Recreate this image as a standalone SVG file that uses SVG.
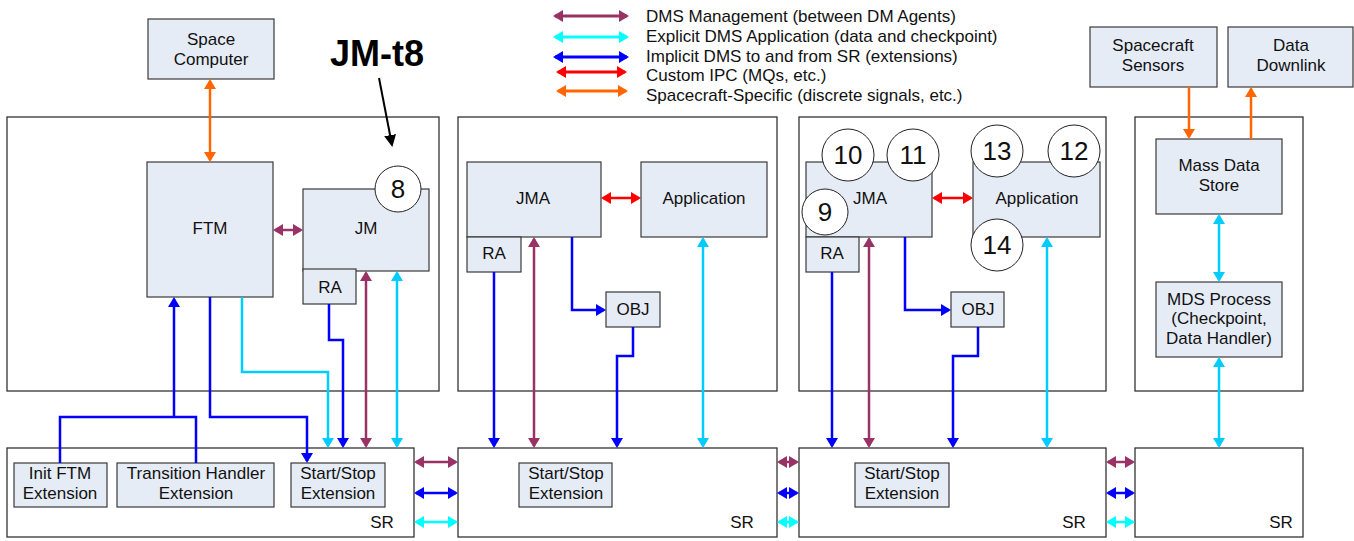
<svg xmlns="http://www.w3.org/2000/svg" width="1354" height="541" viewBox="0 0 1354 541">
  <style>
    .box { fill: #E6ECF6; stroke: #3A3A3A; stroke-width: 1.2; }
    .cont { fill: #FFFFFF; stroke: #333333; stroke-width: 1.3; }
    .num { fill: #FFFFFF; stroke: #222222; stroke-width: 1; }
    text { font-family: "Liberation Sans", Arial, sans-serif; font-size: 17px; fill: #111111; }
    .c { text-anchor: middle; }
    .n { font-size: 26px; text-anchor: middle; }
    .big { font-size: 36px; font-weight: bold; fill: #000000; }
    .ln { fill: none; stroke-width: 2.5; stroke-linejoin: miter; }
    .mg { stroke: #993366; }
    .sk { stroke: #00CCFF; }
    .aq { stroke: #00FFFF; }
    .bl { stroke: #0000FF; }
    .rd { stroke: #FF0000; }
    .or { stroke: #FF6600; }
    .bk { stroke: #000000; stroke-width: 2; }
  </style>
  <defs>
    <marker id="h-mg" viewBox="0 0 10 12" refX="8" refY="6" markerWidth="10" markerHeight="12" markerUnits="userSpaceOnUse" orient="auto-start-reverse"><path d="M0,0 L10,6 L0,12 z" fill="#993366"/></marker>
    <marker id="h-sk" viewBox="0 0 10 12" refX="8" refY="6" markerWidth="10" markerHeight="12" markerUnits="userSpaceOnUse" orient="auto-start-reverse"><path d="M0,0 L10,6 L0,12 z" fill="#00CCFF"/></marker>
    <marker id="h-aq" viewBox="0 0 10 12" refX="8" refY="6" markerWidth="10" markerHeight="12" markerUnits="userSpaceOnUse" orient="auto-start-reverse"><path d="M0,0 L10,6 L0,12 z" fill="#00FFFF"/></marker>
    <marker id="h-bl" viewBox="0 0 10 12" refX="8" refY="6" markerWidth="10" markerHeight="12" markerUnits="userSpaceOnUse" orient="auto-start-reverse"><path d="M0,0 L10,6 L0,12 z" fill="#0000FF"/></marker>
    <marker id="h-rd" viewBox="0 0 10 12" refX="8" refY="6" markerWidth="10" markerHeight="12" markerUnits="userSpaceOnUse" orient="auto-start-reverse"><path d="M0,0 L10,6 L0,12 z" fill="#FF0000"/></marker>
    <marker id="h-or" viewBox="0 0 10 12" refX="8" refY="6" markerWidth="10" markerHeight="12" markerUnits="userSpaceOnUse" orient="auto-start-reverse"><path d="M0,0 L10,6 L0,12 z" fill="#FF6600"/></marker>
    <marker id="h-bk" viewBox="0 0 12 12" refX="10" refY="6" markerWidth="12" markerHeight="12" markerUnits="userSpaceOnUse" orient="auto"><path d="M0,0 L12,6 L0,12 z" fill="#000000"/></marker>
  </defs>

  <!-- legend -->
  <g id="legend">
    <path class="ln mg" d="M555,16 H627" style="stroke-width:3" marker-start="url(#h-mg)" marker-end="url(#h-mg)"/>
    <path class="ln aq" d="M555,37 H627" style="stroke-width:3" marker-start="url(#h-aq)" marker-end="url(#h-aq)"/>
    <path class="ln bl" d="M555,57 H627" style="stroke-width:3" marker-start="url(#h-bl)" marker-end="url(#h-bl)"/>
    <path class="ln rd" d="M558,72 H625" style="stroke-width:3" marker-start="url(#h-rd)" marker-end="url(#h-rd)"/>
    <path class="ln or" d="M558,91 H626" style="stroke-width:3" marker-start="url(#h-or)" marker-end="url(#h-or)"/>
    <text x="646" y="22">DMS Management (between DM Agents)</text>
    <text x="646" y="42">Explicit DMS Application (data and checkpoint)</text>
    <text x="646" y="62">Implicit DMS to and from SR (extensions)</text>
    <text x="646" y="81">Custom IPC (MQs, etc.)</text>
    <text x="646" y="101">Spacecraft-Specific (discrete signals, etc.)</text>
  </g>

  <!-- containers -->
  <g id="host-left"><rect class="cont" x="7" y="117" width="432" height="274"/></g>
  <g id="host-mid"><rect class="cont" x="458" y="117" width="319" height="274"/></g>
  <g id="host-third"><rect class="cont" x="799" y="117" width="307" height="274"/></g>
  <g id="host-right"><rect class="cont" x="1135" y="117" width="168" height="274"/></g>

  <!-- title callout, drawn over the left host frame -->
  <g id="jm-t8-label">
    <text class="big" x="330" y="66">JM-t8</text>
    <path class="ln bk" d="M379,78 L392,145" marker-end="url(#h-bk)"/>
  </g>

  <!-- SR boxes -->
  <g id="sr-1"><rect class="cont" x="7" y="448" width="407" height="89"/><text class="c" x="382" y="528">SR</text></g>
  <g id="sr-2"><rect class="cont" x="458" y="448" width="319" height="89"/><text class="c" x="742" y="528">SR</text></g>
  <g id="sr-3"><rect class="cont" x="799" y="448" width="307" height="89"/><text class="c" x="1074" y="528">SR</text></g>
  <g id="sr-4"><rect class="cont" x="1135" y="448" width="168" height="89"/><text class="c" x="1281" y="528">SR</text></g>

  <!-- external boxes -->
  <g id="space-computer"><rect class="box" x="148" y="19" width="126" height="60"/><text class="c" x="211" y="45">Space</text><text class="c" x="211" y="65">Computer</text></g>
  <g id="sc-sensors"><rect class="box" x="1090" y="27" width="127" height="60"/><text class="c" x="1153" y="51">Spacecraft</text><text class="c" x="1153" y="71">Sensors</text></g>
  <g id="data-downlink"><rect class="box" x="1228" y="27" width="125" height="60"/><text class="c" x="1291" y="51">Data</text><text class="c" x="1291" y="71">Downlink</text></g>

  <!-- left host -->
  <g id="ftm"><rect class="box" x="147" y="162" width="126" height="135"/><text class="c" x="210" y="234">FTM</text></g>
  <g id="jm"><rect class="box" x="303" y="189" width="126" height="82"/><text class="c" x="366" y="234">JM</text></g>
  <g id="ra-1"><rect class="box" x="303" y="269" width="53" height="35"/><text class="c" x="330" y="293">RA</text></g>
  <g id="num-8"><circle class="num" cx="398" cy="189" r="23"/><text class="n" x="398" y="198">8</text></g>

  <!-- middle host -->
  <g id="jma-1"><rect class="box" x="467" y="162" width="134" height="75"/><text class="c" x="533" y="204">JMA</text></g>
  <g id="app-1"><rect class="box" x="641" y="162" width="126" height="75"/><text class="c" x="704" y="204">Application</text></g>
  <g id="ra-2"><rect class="box" x="467" y="237" width="54" height="35"/><text class="c" x="494" y="259">RA</text></g>
  <g id="obj-1"><rect class="box" x="606" y="292" width="54" height="35"/><text class="c" x="633" y="315">OBJ</text></g>

  <!-- third host -->
  <g id="jma-2"><rect class="box" x="806" y="162" width="126" height="75"/><text class="c" x="870" y="204">JMA</text></g>
  <g id="app-2"><rect class="box" x="973" y="162" width="127" height="75"/><text class="c" x="1037" y="204">Application</text></g>
  <g id="ra-3"><rect class="box" x="806" y="237" width="53" height="35"/><text class="c" x="832" y="259">RA</text></g>
  <g id="obj-2"><rect class="box" x="951" y="292" width="53" height="35"/><text class="c" x="978" y="315">OBJ</text></g>
  <g id="num-10"><circle class="num" cx="848" cy="155" r="26"/><text class="n" x="848" y="164">10</text></g>
  <g id="num-11"><circle class="num" cx="913" cy="155" r="26"/><text class="n" x="913" y="164">11</text></g>
  <g id="num-9"><circle class="num" cx="825" cy="212" r="23"/><text class="n" x="825" y="221">9</text></g>
  <g id="num-13"><circle class="num" cx="997" cy="151" r="26"/><text class="n" x="997" y="160">13</text></g>
  <g id="num-12"><circle class="num" cx="1074" cy="151" r="26"/><text class="n" x="1074" y="160">12</text></g>
  <g id="num-14"><circle class="num" cx="997" cy="245" r="26"/><text class="n" x="997" y="254">14</text></g>

  <!-- right host -->
  <g id="mass-data-store"><rect class="box" x="1156" y="139" width="126" height="75"/><text class="c" x="1219" y="171">Mass Data</text><text class="c" x="1219" y="191">Store</text></g>
  <g id="mds-process"><rect class="box" x="1156" y="282" width="126" height="75"/><text class="c" x="1219" y="305">MDS Process</text><text class="c" x="1219" y="324">(Checkpoint,</text><text class="c" x="1219" y="344">Data Handler)</text></g>

  <!-- SR extensions -->
  <g id="init-ftm-ext"><rect class="box" x="14" y="463" width="93" height="44"/><text class="c" x="60" y="479">Init FTM</text><text class="c" x="60" y="499">Extension</text></g>
  <g id="transition-ext"><rect class="box" x="117" y="463" width="157" height="44"/><text class="c" x="196" y="479">Transition Handler</text><text class="c" x="196" y="499">Extension</text></g>
  <g id="startstop-ext-1"><rect class="box" x="291" y="463" width="94" height="44"/><text class="c" x="338" y="479">Start/Stop</text><text class="c" x="338" y="499">Extension</text></g>
  <g id="startstop-ext-2"><rect class="box" x="519" y="463" width="93" height="44"/><text class="c" x="566" y="479">Start/Stop</text><text class="c" x="566" y="499">Extension</text></g>
  <g id="startstop-ext-3"><rect class="box" x="855" y="463" width="94" height="44"/><text class="c" x="902" y="479">Start/Stop</text><text class="c" x="902" y="499">Extension</text></g>

  <!-- connectors -->
  <g id="connectors">
    <!-- left host -->
    <path class="ln or" d="M210,81 V160" marker-start="url(#h-or)" marker-end="url(#h-or)"/>
    <path class="ln mg" d="M275,230 H301" marker-start="url(#h-mg)" marker-end="url(#h-mg)"/>
    <path class="ln bl" d="M60,463 V417 H196 V463"/>
    <path class="ln bl" d="M174,417 V299" marker-end="url(#h-bl)"/>
    <path class="ln bl" d="M210,297 V417 H307 V461" marker-end="url(#h-bl)"/>
    <path class="ln sk" d="M242,297 V372 H328 V446" marker-end="url(#h-sk)"/>
    <path class="ln bl" d="M329,304 V340 H343 V446" marker-end="url(#h-bl)"/>
    <path class="ln mg" d="M366,273 V446" marker-start="url(#h-mg)" marker-end="url(#h-mg)"/>
    <path class="ln sk" d="M397,273 V446" marker-start="url(#h-sk)" marker-end="url(#h-sk)"/>
    <!-- middle host -->
    <path class="ln rd" d="M603,198 H639" marker-start="url(#h-rd)" marker-end="url(#h-rd)"/>
    <path class="ln bl" d="M494,272 V446" marker-end="url(#h-bl)"/>
    <path class="ln mg" d="M534,239 V446" marker-start="url(#h-mg)" marker-end="url(#h-mg)"/>
    <path class="ln bl" d="M572,237 V310 H604" marker-end="url(#h-bl)"/>
    <path class="ln bl" d="M633,327 V356 H617 V446" marker-end="url(#h-bl)"/>
    <path class="ln sk" d="M703,239 V446" marker-start="url(#h-sk)" marker-end="url(#h-sk)"/>
    <!-- third host -->
    <path class="ln rd" d="M934,198 H971" marker-start="url(#h-rd)" marker-end="url(#h-rd)"/>
    <path class="ln bl" d="M832,272 V446" marker-end="url(#h-bl)"/>
    <path class="ln mg" d="M869,239 V446" marker-start="url(#h-mg)" marker-end="url(#h-mg)"/>
    <path class="ln bl" d="M905,237 V310 H949" marker-end="url(#h-bl)"/>
    <path class="ln bl" d="M978,327 V356 H953 V446" marker-end="url(#h-bl)"/>
    <path class="ln sk" d="M1047,239 V446" marker-start="url(#h-sk)" marker-end="url(#h-sk)"/>
    <!-- right host -->
    <path class="ln or" d="M1189,87 V137" marker-end="url(#h-or)"/>
    <path class="ln or" d="M1251,139 V89" marker-end="url(#h-or)"/>
    <path class="ln sk" d="M1219,216 V280" marker-start="url(#h-sk)" marker-end="url(#h-sk)"/>
    <path class="ln sk" d="M1219,359 V446" marker-start="url(#h-sk)" marker-end="url(#h-sk)"/>
    <!-- between SR instances -->
    <path class="ln mg" d="M416,462 H456" marker-start="url(#h-mg)" marker-end="url(#h-mg)"/>
    <path class="ln bl" d="M416,493 H456" marker-start="url(#h-bl)" marker-end="url(#h-bl)"/>
    <path class="ln aq" d="M416,522 H456" marker-start="url(#h-aq)" marker-end="url(#h-aq)"/>
    <path class="ln mg" d="M779,462 H797" marker-start="url(#h-mg)" marker-end="url(#h-mg)"/>
    <path class="ln bl" d="M779,493 H797" marker-start="url(#h-bl)" marker-end="url(#h-bl)"/>
    <path class="ln aq" d="M779,522 H797" marker-start="url(#h-aq)" marker-end="url(#h-aq)"/>
    <path class="ln mg" d="M1108,462 H1133" marker-start="url(#h-mg)" marker-end="url(#h-mg)"/>
    <path class="ln bl" d="M1108,493 H1133" marker-start="url(#h-bl)" marker-end="url(#h-bl)"/>
    <path class="ln aq" d="M1108,522 H1133" marker-start="url(#h-aq)" marker-end="url(#h-aq)"/>
  </g>
</svg>
